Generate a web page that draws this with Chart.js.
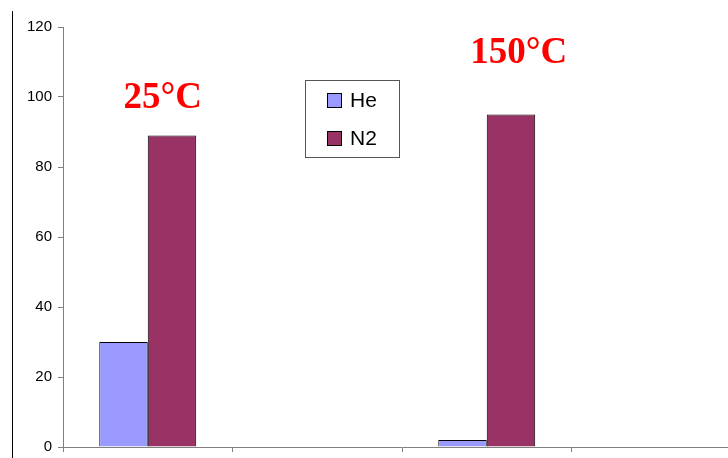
<!DOCTYPE html>
<html>
<head>
<meta charset="utf-8">
<script src="https://cdn.jsdelivr.net/npm/chart.js@4/dist/chart.umd.min.js"></script>
<style>
    html, body { margin: 0; padding: 0; background: #fff; overflow: hidden; }
    #wrap { width: 728px; height: 458px; overflow: hidden; }
</style>
</head>
<body>
<div id="wrap">
    <canvas id="myChart" width="745" height="458"></canvas>
</div>
<script>
// group labels (shown as red captions above the groups)
const categories = ['25°C', '', '150°C', ''];
const seriesNames = ['He', 'N2'];
const heValues = [30, null, 2, null];
const n2Values = [89, null, 95, null];
const yTicks = [0, 20, 40, 60, 80, 100, 120];

const seriesColors = ['#9999FF', '#993366'];

// captions: category index, x offset from group centre, y value of baseline
const captionSpots = [
    { idx: 0, dx: 15, yVal: 97 },
    { idx: 2, dx: 32, yVal: 109.7 }
];

const extrasPlugin = {
    id: 'extras',
    afterDraw(chart) {
        const ctx = chart.ctx;
        const xs = chart.scales.x;
        const ys = chart.scales.y;

        // black rule on the far left
        ctx.save();
        ctx.strokeStyle = '#000';
        ctx.lineWidth = 1;
        ctx.beginPath();
        ctx.moveTo(12.5, 11);
        ctx.lineTo(12.5, 458);
        ctx.stroke();

        // red temperature captions
        ctx.fillStyle = '#FF0000';
        ctx.font = 'bold 37px "Liberation Serif", "Times New Roman", serif';
        ctx.textAlign = 'center';
        ctx.textBaseline = 'alphabetic';
        captionSpots.forEach(function (c) {
            let x = xs.getPixelForValue(c.idx) + c.dx;
            let y = ys.getPixelForValue(c.yVal);
            ctx.fillText(chart.data.labels[c.idx], x, y);
        });

        // legend box
        ctx.fillStyle = '#fff';
        ctx.fillRect(305.5, 80.5, 94, 77);
        ctx.strokeStyle = '#555';
        ctx.strokeRect(305.5, 80.5, 94, 77);
        ctx.font = '21px "Liberation Sans", Arial, sans-serif';
        ctx.textAlign = 'left';
        ctx.textBaseline = 'middle';
        chart.data.datasets.forEach(function (ds, i) {
            let cy = 100.5 + i * 38;
            ctx.fillStyle = ds.backgroundColor;
            ctx.fillRect(327.5, cy - 7, 14, 14);
            ctx.strokeStyle = '#000';
            ctx.strokeRect(327.5, cy - 7, 14, 14);
            ctx.fillStyle = '#000';
            ctx.fillText(ds.label, 350, cy + 1);
        });
        ctx.restore();
    }
};

const ctx = document.getElementById('myChart');

const gasChart = new Chart(ctx, {
    type: 'bar',
    data: {
        labels: categories,
        datasets: [{
            label: seriesNames[0],
            data: heValues,
            backgroundColor: seriesColors[0],
            borderColor: '#000',
            borderWidth: 1
        }, {
            label: seriesNames[1],
            data: n2Values,
            backgroundColor: seriesColors[1],
            borderColor: '#000',
            borderWidth: 1
        }]
    },
    options: {
        responsive: false,
        animation: false,
        categoryPercentage: 0.572,
        barPercentage: 1.0,
        layout: {
            padding: { left: 0, right: 4, top: 27, bottom: 0 }
        },
        scales: {
            x: {
                grid: {
                    offset: true,
                    drawOnChartArea: false,
                    drawTicks: true,
                    tickLength: 5,
                    color: '#808080'
                },
                border: { color: '#808080', width: 1 },
                ticks: { display: false },
                afterFit: function (s) {
                    s.height = 11;
                    s.paddingLeft = 0;
                    s.paddingRight = 0;
                }
            },
            y: {
                min: 0,
                max: 120,
                afterBuildTicks: function (s) {
                    s.ticks = yTicks.map(v => ({ value: v }));
                },
                grid: {
                    drawOnChartArea: false,
                    drawTicks: true,
                    tickLength: 5,
                    color: '#808080'
                },
                border: { color: '#808080', width: 1 },
                ticks: {
                    color: '#000',
                    padding: 6,
                    font: { family: '"Liberation Sans", Arial, sans-serif', size: 15 }
                },
                afterFit: function (s) {
                    s.width = 63;
                    s.paddingTop = 0;
                    s.paddingBottom = 0;
                }
            }
        },
        plugins: {
            legend: { display: false },
            tooltip: { enabled: false }
        }
    },
    plugins: [extrasPlugin]
});
</script>
</body>
</html>
